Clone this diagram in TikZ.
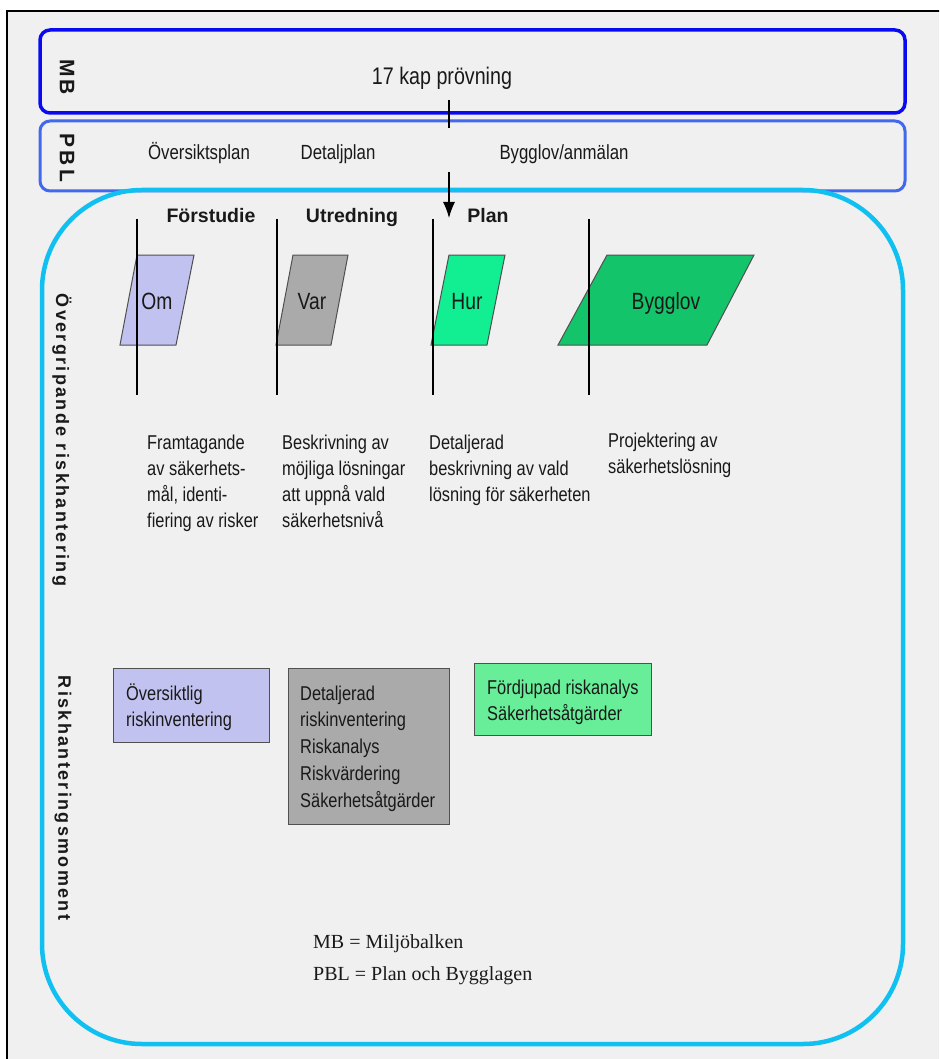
\documentclass[tikz,border=0pt]{standalone}
\usepackage{fontspec}
\setmainfont{Liberation Sans}
\newfontfamily\narrowfont[FakeStretch=0.82]{Liberation Sans}
\newfontfamily\spacedfont[LetterSpace=13]{Liberation Sans}
\newfontfamily\lanefont[LetterSpace=15]{Liberation Sans}
\newfontfamily\legendfont{Liberation Serif}
\usetikzlibrary{arrows.meta}

\definecolor{pagebg}{RGB}{240,240,240}
\definecolor{mbblue}{RGB}{10,10,240}
\definecolor{pblblue}{RGB}{66,104,236}
\definecolor{riskcyan}{RGB}{16,192,240}
\definecolor{lav}{RGB}{194,194,240}
\definecolor{midgray}{RGB}{170,170,170}
\definecolor{hurgreen}{RGB}{18,238,146}
\definecolor{bygggreen}{RGB}{20,196,106}
\definecolor{paleg}{RGB}{104,238,152}
\definecolor{ink}{RGB}{25,25,25}
\definecolor{edge}{RGB}{80,80,80}

\begin{document}
\begin{tikzpicture}[x=1pt,y=-1pt,
  every node/.style={inner sep=0pt, text=ink},
  lane/.style={line width=3.5pt, rounded corners=10pt},
  sidelabel/.style={font=\spacedfont\bfseries\fontsize{18}{20}\selectfont, rotate=-90},
  lanelabel/.style={font=\lanefont\bfseries\fontsize{21}{24}\selectfont, rotate=-90},
  law/.style={font=\narrowfont\fontsize{20.5}{24}\selectfont, anchor=base},
  phase/.style={font=\bfseries\fontsize{19.5}{22}\selectfont, anchor=base},
  shapetext/.style={font=\narrowfont\fontsize{23.5}{26}\selectfont, anchor=base},
  desc/.style={font=\narrowfont\fontsize{20}{26}\selectfont, align=left, anchor=base west},
  boxtext/.style={font=\narrowfont\fontsize{20}{26.8}\selectfont, align=left, anchor=base west},
  para/.style={draw=edge, line width=1pt},
  stepbox/.style={draw=edge, line width=1.2pt, anchor=north west},
  tick/.style={line width=1.2pt, draw=black},
]
\useasboundingbox (0,0) rectangle (939,1059);
\fill[white] (0,0) rectangle (939,1059);

% page frame, open towards the right and bottom
\begin{scope}
  \clip (0,0) rectangle (939,1059);
  \filldraw[fill=pagebg, draw=black, line width=2.5pt] (7,11) rectangle (960,1080);
\end{scope}

% legal lanes and the risk management frame
\draw[lane, draw=mbblue] (40,30) rectangle (905,113);
\draw[lane, draw=pblblue, line width=3pt] (40,121) rectangle (905,191);
\draw[draw=riskcyan, line width=4.5pt, rounded corners=100pt] (42,190) rectangle (903,1044);

% lane labels
\node[lanelabel] (mb) at (67,77) {MB};
\node[lanelabel] (pbl) at (67,158) {PBL};
\node[law, font=\narrowfont\fontsize{24}{28}\selectfont] (kap) at (442,85) {17 kap prövning};
\node[law] (osp) at (199,160) {Översiktsplan};
\node[law] (dp) at (338,160) {Detaljplan};
\node[law] (bya) at (564,160) {Bygglov/anmälan};

% arrow from the MB lane down to the plan phase
\coordinate (a1) at (449,100);
\coordinate (a2) at (449,128);
\coordinate (a3) at (449,172);
\coordinate (a4) at (449,218);
\draw[line width=1.2pt] (a1) -- (a2);
\draw[line width=1.2pt, -{Latex[length=16pt,width=12pt]}] (a3) -- (a4);

% phase headers
\node[phase] (fs) at (211,223) {Förstudie};
\node[phase] (ut) at (352,223) {Utredning};
\node[phase] (pl) at (488,223) {Plan};

% phase parallelograms
\filldraw[para, fill=lav] (137,255) -- (194,255) -- (176,345) -- (120,345) -- cycle;
\filldraw[para, fill=midgray] (293,255) -- (348,255) -- (331,345) -- (276,345) -- cycle;
\filldraw[para, fill=hurgreen] (449,255) -- (505,255) -- (487,345) -- (431,345) -- cycle;
\filldraw[para, fill=bygggreen] (607,255) -- (754,255) -- (707,345) -- (558,345) -- cycle;
\node[shapetext] (om) at (157,309) {Om};
\node[shapetext] (var) at (312,309) {Var};
\node[shapetext] (hur) at (467,309) {Hur};
\node[shapetext] (byg) at (666,309) {Bygglov};

% phase boundaries
\draw[tick] (137,219) -- (137,395);
\draw[tick] (277,219) -- (277,395);
\draw[tick] (433,219) -- (433,395);
\draw[tick] (589,219) -- (589,395);

% descriptions (anchored at the baseline of their last line)
\node[desc] (d1) at (147,527) {Framtagande\\av säkerhets-\\mål, identi-\\fiering av risker};
\node[desc] (d2) at (282,527) {Beskrivning av\\möjliga lösningar\\att uppnå vald\\säkerhetsnivå};
\node[desc] (d3) at (429,501) {Detaljerad\\beskrivning av vald\\lösning för säkerheten};
\node[desc] (d4) at (608,473) {Projektering av\\säkerhetslösning};

% side labels
\node[sidelabel] (og) at (62,440) {Övergripande riskhantering};
\node[sidelabel] (rm) at (63,798) {Riskhanteringsmoment};

% risk management steps
\node[stepbox, fill=lav, minimum width=156pt, minimum height=74pt] (b1) at (113,668) {};
\node[boxtext] (b1t) at (126,726.8) {Översiktlig\\riskinventering};
\node[stepbox, fill=midgray, minimum width=161pt, minimum height=156pt] (b2) at (288,668) {};
\node[boxtext] (b2t) at (300,807.2) {Detaljerad\\riskinventering\\Riskanalys\\Riskvärdering\\Säkerhetsåtgärder};
\node[stepbox, fill=paleg, minimum width=177pt, minimum height=72pt] (b3) at (474,663) {};
\node[boxtext] (b3t) at (487,720.8) {Fördjupad riskanalys\\Säkerhetsåtgärder};

% abbreviations
\node[font=\legendfont\fontsize{20}{32}\selectfont, align=left, anchor=base west] (legend) at (313,980) {MB = Miljöbalken\\PBL = Plan och Bygglagen};
\end{tikzpicture}
\end{document}
